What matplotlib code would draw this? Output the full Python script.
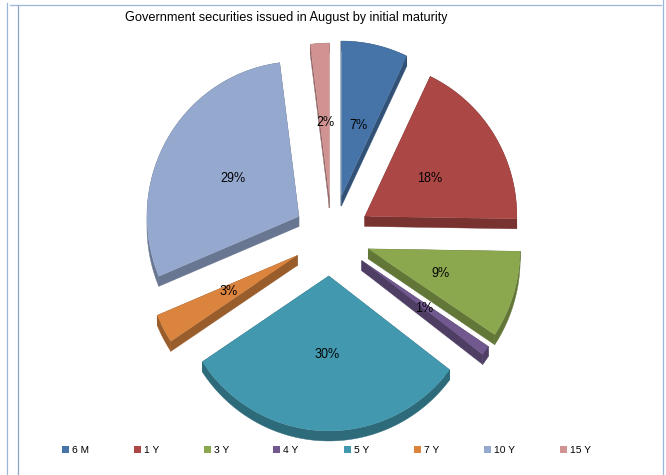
import numpy as np
import matplotlib
matplotlib.use("Agg")
import matplotlib.pyplot as plt
from matplotlib.patches import Polygon, Rectangle

plt.rcParams["font.family"] = ["Liberation Sans", "DejaVu Sans"]
plt.rcParams["text.hinting"] = "no_autohint"

# Share of issuance by initial maturity, in percent
maturities = ["6 M", "1 Y", "3 Y", "4 Y", "5 Y", "7 Y", "10 Y", "15 Y"]
shares = [7, 18, 9, 1, 30, 3, 29, 2]

colors = ["#4674A9", "#AB4744", "#8BA84E", "#71588F", "#4198AF", "#DB843D", "#95A9CF", "#D19392"]
explode = [43, 41, 40, 39, 38, 37, 37, 40]
legend_x = [62, 134, 204, 273, 344, 414, 484, 560]

# Small per-slice adjustments, in pixels
apex_nudge = [(2, 0), (0, 0), (0, -1), (0, 0), (0, 0), (0, 0), (1, -3), (2, 0)]
label_nudge = [(0, 4), (0, 2), (0, 1), (0, 2), (1, 0), (-2, -2), (0, 0), (1, 1)]

CX, CY = 330, 238       # pie centre, pixels
RX, RY = 152, 155       # rim radii of the top face
DEPTH = 10              # height of the extruded side
FRAME = "#9DB5D8"


def darker(hex_color, k=0.7):
    rgb = np.array(matplotlib.colors.to_rgb(hex_color))
    return tuple(rgb * k)


fig = plt.figure(figsize=(6.66, 4.75), dpi=100)
ax = fig.add_axes([0, 0, 1, 1])
ax.set_xlim(0, 666)
ax.set_ylim(475, 0)
ax.axis("off")

# Window frame lines surrounding the chart
ax.plot([6.5, 6.5], [3, 475], color=FRAME, lw=0.9)
ax.plot([17.5, 17.5], [4.5, 475], color="#8FA5C8", lw=0.9)
ax.plot([10, 661], [4.5, 4.5], color=FRAME, lw=0.9)
ax.plot([662.5, 662.5], [0, 475], color=FRAME, lw=0.9)

fractions = np.array(shares, dtype=float) / sum(shares)
edges = np.concatenate([[0], np.cumsum(fractions)]) * 2 * np.pi
drop = np.array([0, DEPTH])

for i, share in enumerate(shares):
    a0, a1 = edges[i], edges[i + 1]
    mid = (a0 + a1) / 2
    apex = np.array([CX + explode[i] * np.sin(mid), CY - explode[i] * np.cos(mid)]) + apex_nudge[i]
    angles = np.linspace(a0, a1, 120)
    rim = apex + np.column_stack([RX * np.sin(angles), -RY * np.cos(angles)])
    side = darker(colors[i])
    # Side walls: the curved band plus the two straight cut faces
    walls = [
        np.vstack([rim, (rim + drop)[::-1]]),
        np.array([apex, rim[0], rim[0] + drop, apex + drop]),
        np.array([apex, rim[-1], rim[-1] + drop, apex + drop]),
    ]
    for wall in walls:
        ax.add_patch(Polygon(wall, closed=True, fc=side, ec=side, lw=0.3, zorder=2))
    ax.add_patch(Polygon(np.vstack([apex, rim]), closed=True, fc=colors[i], ec="none", zorder=3))
    ax.text(apex[0] + 0.5 * RX * np.sin(mid) + label_nudge[i][0],
            apex[1] - 0.5 * RY * np.cos(mid) + label_nudge[i][1] + 4.5,
            f"{share}%", fontsize=9, color="black", ha="center", va="baseline", zorder=5)

ax.text(286.5, 21, "Government securities issued in August by initial maturity",
        fontsize=9.2, color="black", ha="center", va="baseline")

# Legend row along the bottom
for x, name, color in zip(legend_x, maturities, colors):
    ax.add_patch(Rectangle((x, 446), 6.5, 6.5, fc=color, ec="none"))
    ax.text(x + 10, 453, name, fontsize=7.4, color="black", ha="left", va="baseline")

fig.savefig("out.png", dpi=100)
